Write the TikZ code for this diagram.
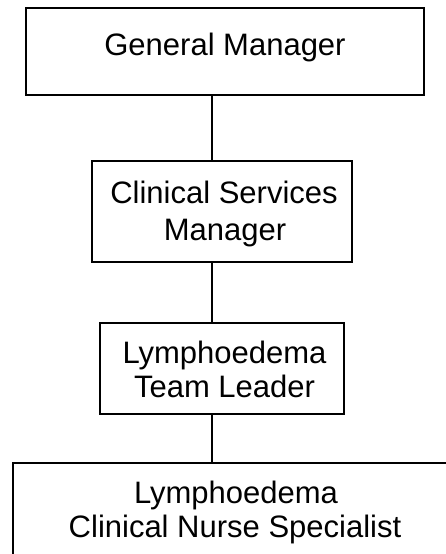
\documentclass[tikz,border=0pt]{standalone}
\usepackage{fontspec}
\setmainfont{Liberation Sans}
\begin{document}
\begin{tikzpicture}[x=1pt,y=-1pt,
  box/.style={draw=black, line width=2pt, rectangle, inner sep=0pt},
  lbl/.style={anchor=base, inner sep=0pt, font=\fontsize{31}{35}\selectfont},
  conn/.style={draw=black, line width=2pt}]
\useasboundingbox (0,0) rectangle (446,554);
\clip (0,0) rectangle (446,554);
\coordinate (cx) at (212,0);
% boxes
\node[box, minimum width=398pt, minimum height=87pt] (gm) at (225,51) {};
\node[box, minimum width=260pt, minimum height=101pt] (csm) at (222,211.5) {};
\node[box, minimum width=244pt, minimum height=91pt] (tl) at (222,368.5) {};
\node[box, minimum width=447pt, minimum height=120pt] (cns) at (236.5,523) {};
% labels
\node[lbl] (gmt) at (225,55) {General Manager};
\node[lbl] (csmt1) at (224,203) {Clinical Services};
\node[lbl] (csmt2) at (225,240) {Manager};
\node[lbl] (tlt1) at (224.5,363) {Lymphoedema};
\node[lbl] (tlt2) at (224.5,397) {Team Leader};
\node[lbl] (cnst1) at (236,503) {Lymphoedema};
\node[lbl] (cnst2) at (235,537) {Clinical Nurse Specialist};
% connectors
\draw[conn] (gm.south -| cx) -- (csm.north -| cx);
\draw[conn] (csm.south -| cx) -- (tl.north -| cx);
\draw[conn] (tl.south -| cx) -- (cns.north -| cx);
\end{tikzpicture}
\end{document}
